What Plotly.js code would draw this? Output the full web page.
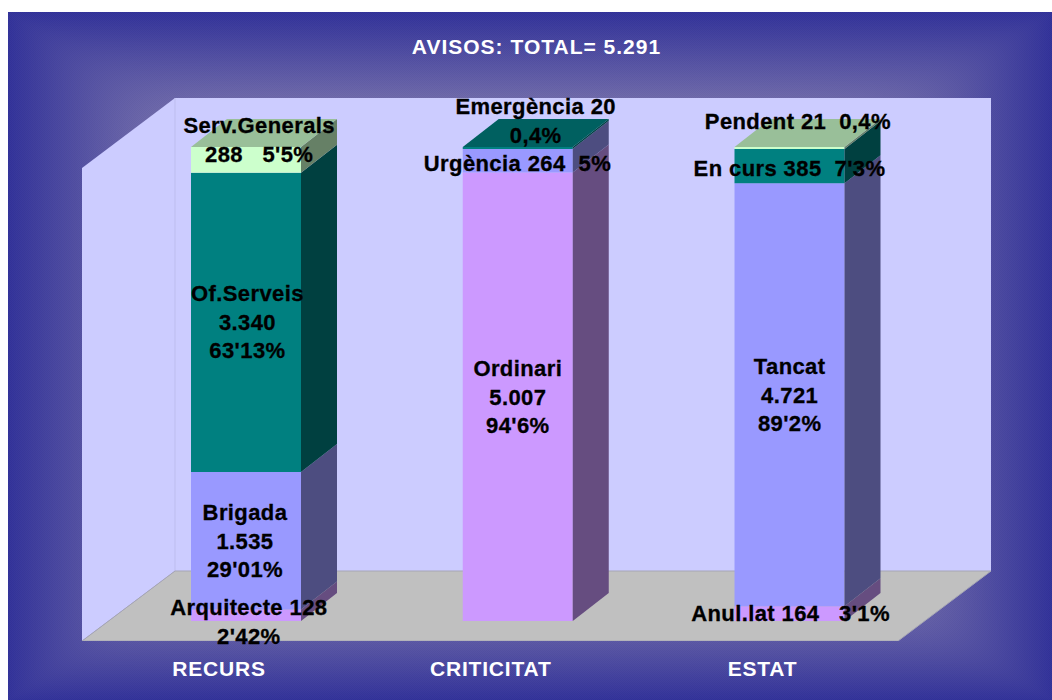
<!DOCTYPE html>
<html>
<head>
<meta charset="utf-8">
<script src="https://cdn.plot.ly/plotly-3.0.1.min.js"></script>
<style>
html,body{margin:0;padding:0;background:#fff;overflow:hidden}
#chart{width:1052px;height:700px}
#chart .annotation-text{letter-spacing:.4px;stroke:#000;stroke-width:.3px}
#chart .gtitle{letter-spacing:1px}
#chart .xtick text{letter-spacing:.8px}
</style>
</head>
<body>
<div id="chart"></div>
<script>
// ---------- data ----------
const categories = ['RECURS', 'CRITICITAT', 'ESTAT'];
const chartTitle = 'AVISOS: TOTAL= 5.291';
const series1 = [128, 5007, 164];
const series2 = [1535, 264, 4721];
const series3 = [3340, 20, 385];
const series4 = [288, 0, 21];
const labels1 = ["Arquitecte 128<br>2'42%", "Ordinari<br>5.007<br>94'6%", "Anul.lat 164\u00a0\u00a0\u00a03'1%"];
const labels2 = ["Brigada<br>1.535<br>29'01%", "Urgència 264\u00a0\u00a05%", "Tancat<br>4.721<br>89'2%"];
const labels3 = ["Of.Serveis<br>3.340<br>63'13%", "Emergència 20<br>0,4%", "En curs 385\u00a0\u00a07'3%"];
const labels4 = ["Serv.Generals<br>288\u00a0\u00a0\u00a05'5%", "", "Pendent 21\u00a0\u00a00,4%"];

// ---------- style ----------
const colors = ['#CC99FF', '#9999FF', '#008080', '#CCFFCC'];
const sideColors = ['#664D80', '#4D4D80', '#004040', '#668066'];
const topColors = ['#9973BF', '#7373BF', '#006060', '#99BF99'];
const labelShiftX = [[3, 0, 1], [-1, 0, 0], [1, 18, 0], [13, 0, 8]];
const labelShiftY = [[-7, 0, 0], [0, -3, 0], [0, 27, -2], [19.5, 0, 26]];

// ---------- geometry: pixel frame -> axis units ----------
const W = 1052, H = 700;
const plotL = 82, plotR = 991, plotT = 98, plotB = 641;
const slotPx = 271.75, barPx = 110, firstCenterPx = 246;
const basePx = 621, unitPx = 474 / 5291;
const depthXpx = 36, depthYpx = 28, wallXpx = 93, wallYpx = 70;
const pxX = p => (p - firstCenterPx) / slotPx;
const pxY = p => (basePx - p) / unitPx;
const xMin = pxX(plotL), xMax = pxX(plotR), yMin = pxY(plotB), yMax = pxY(plotT);
const barW = barPx / slotPx;
const dX = depthXpx / slotPx, dY = depthYpx / unitPx;
const wX = wallXpx / slotPx, wY = wallYpx / unitPx;
const tickPos = categories.map((c, i) => i - 27 / slotPx);

// ---------- background gradient ----------
function panelImage() {
  const pw = 1044, ph = 688, p = 4;
  const c = document.createElement('canvas'); c.width = pw; c.height = ph;
  const ctx = c.getContext('2d'); const im = ctx.createImageData(pw, ph);
  const edge = [0x33, 0x33, 0x99], inner = [0x6E, 0x69, 0xA9];
  for (let y = 0; y < ph; y++) for (let x = 0; x < pw; x++) {
    const a = Math.max(1e-4, 1 - Math.abs(x + .5 - pw / 2) / (pw / 2));
    const b = Math.max(1e-4, 1 - Math.abs(y + .5 - ph / 2) / (ph / 2));
    const d = Math.pow(Math.pow(a, -p) + Math.pow(b, -p), -1 / p);
    const t = Math.min(1, d / 0.25), k = (y * pw + x) * 4;
    const dither = ((x + y) % 2 ? 2 : -2);
    for (let n = 0; n < 3; n++) im.data[k + n] = edge[n] + (inner[n] - edge[n]) * t + dither;
    im.data[k + 3] = 255;
  }
  ctx.putImageData(im, 0, 0);
  return c.toDataURL('image/png');
}

// ---------- traces ----------
const allSeries = [series1, series2, series3, series4];
const allLabels = [labels1, labels2, labels3, labels4];
const traces = [], annotations = [];
const stack = categories.map(() => 0);
allSeries.forEach((vals, s) => {
  traces.push({
    type: 'bar', x: categories.map((c, i) => i), y: vals, base: stack.slice(), width: barW,
    marker: { color: colors[s], line: { width: 0 } }, hoverinfo: 'y', showlegend: false
  });
  vals.forEach((v, i) => {
    if (!v) return;
    const y0 = stack[i], y1 = y0 + v, xr = i + barW / 2, xl = i - barW / 2;
    traces.push({
      type: 'scatter', mode: 'lines', fill: 'toself', fillcolor: sideColors[s], line: { width: 0 },
      x: [xr, xr + dX, xr + dX, xr, xr], y: [y0, y0 + dY, y1 + dY, y1, y0],
      hoverinfo: 'skip', showlegend: false
    });
    const isTop = !allSeries.slice(s + 1).some(o => o[i] > 0);
    if (isTop) traces.push({
      type: 'scatter', mode: 'lines', fill: 'toself', fillcolor: topColors[s], line: { width: 0 },
      x: [xl, xr, xr + dX, xl + dX, xl], y: [y1, y1, y1 + dY, y1 + dY, y1],
      hoverinfo: 'skip', showlegend: false
    });
    annotations.push({
      x: i, y: y0 + v / 2, xref: 'x', yref: 'y', text: allLabels[s][i], showarrow: false,
      xanchor: 'center', yanchor: 'middle', align: 'center',
      xshift: labelShiftX[s][i], yshift: labelShiftY[s][i],
      font: { family: 'Liberation Sans, Arial, sans-serif', size: 22, color: '#000', weight: 700 }
    });
    stack[i] = y1;
  });
});

// ---------- walls and floor ----------
const poly = pts => 'M' + pts.map(p => p[0] + ',' + p[1]).join('L') + 'Z';
const backL = xMin + wX, floorBack = yMin + wY;
const shapes = [
  { type: 'path', layer: 'below', xref: 'x', yref: 'y', fillcolor: '#CCCCFF', line: { width: 0 },
    path: poly([[backL, floorBack], [xMax, floorBack], [xMax, yMax], [backL, yMax]]) },
  { type: 'path', layer: 'below', xref: 'x', yref: 'y', fillcolor: '#CCCCFF', line: { width: 0 },
    path: poly([[xMin, yMin], [backL, floorBack], [backL, yMax], [xMin, yMax - wY]]) },
  { type: 'line', layer: 'below', xref: 'x', yref: 'y', x0: backL, x1: backL, y0: floorBack, y1: yMax,
    line: { width: 1, color: '#BDBDEE' } },
  { type: 'path', layer: 'below', xref: 'x', yref: 'y', fillcolor: '#C0C0C0', line: { width: 1, color: '#A6A6B4' },
    path: poly([[xMin, yMin], [xMax - wX, yMin], [xMax, floorBack], [backL, floorBack]]) }
];

const layout = {
  width: W, height: H, autosize: false,
  margin: { l: plotL, r: W - plotR, t: plotT, b: H - plotB, pad: 0 },
  paper_bgcolor: '#FFFFFF', plot_bgcolor: 'rgba(0,0,0,0)',
  barmode: 'overlay', showlegend: false,
  title: { text: chartTitle, x: 536.5 / W, y: 1 - 47 / H, xanchor: 'center', yanchor: 'middle',
    font: { family: 'Liberation Sans, Arial, sans-serif', size: 21, color: '#FFFFFF', weight: 700 } },
  xaxis: { range: [xMin, xMax], showgrid: false, zeroline: false, showline: false, ticks: '',
    tickmode: 'array', tickvals: tickPos, ticktext: categories, ticklabelstandoff: 13, automargin: false,
    tickfont: { family: 'Liberation Sans, Arial, sans-serif', size: 21, color: '#FFFFFF', weight: 700 } },
  yaxis: { range: [yMin, yMax], visible: false, showgrid: false, zeroline: false, automargin: false },
  shapes, annotations,
  images: [{ source: panelImage(), xref: 'paper', yref: 'paper', layer: 'below',
    x: (8 - plotL) / (plotR - plotL), y: 1 + (plotT - 12) / (plotB - plotT),
    sizex: 1044 / (plotR - plotL), sizey: 688 / (plotB - plotT),
    xanchor: 'left', yanchor: 'top', sizing: 'stretch' }]
};
Plotly.newPlot('chart', traces, layout, { displayModeBar: false, staticPlot: false, responsive: false });
</script>
</body>
</html>
